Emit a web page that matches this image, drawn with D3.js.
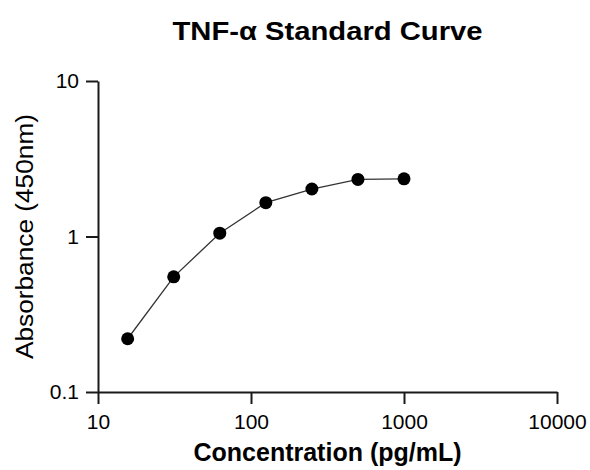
<!DOCTYPE html>
<html lang="en">
<head>
    <meta charset="UTF-8">
    <script src="https://d3js.org/d3.v7.min.js"></script>
    <title>TNF-α Standard Curve</title>
    <style>
        body { margin: 0; background: #fff; }
        text { font-family: "Liberation Sans", Arial, sans-serif; fill: #000; }
    </style>
</head>
<body>
    <script>
        // standard curve data
        var concentrations = [15.625, 31.25, 62.5, 125, 250, 500, 1000];
        var absorbances = [0.22, 0.55, 1.05, 1.65, 2.02, 2.33, 2.35];
        var xTicks = [10, 100, 1000, 10000];
        var yTicks = [0.1, 1, 10];

        var svgWidth = 590, svgHeight = 470;
        var margin = { top: 81, right: 33, bottom: 78, left: 98 };
        var width = svgWidth - margin.left - margin.right;
        var height = svgHeight - margin.top - margin.bottom;

        var svg = d3.select('body')
            .append('svg')
            .attr('width', svgWidth)
            .attr('height', svgHeight);

        var g = svg.append('g')
            .attr('transform', 'translate(' + margin.left + ',' + margin.top + ')');

        var xScale = d3.scaleLog().domain([10, 10000]).range([0, width]);
        var yScale = d3.scaleLog().domain([0.1, 10]).range([height, 0]);

        var xAxis = d3.axisBottom(xScale)
            .tickValues(xTicks)
            .tickFormat(d3.format('d'))
            .tickSize(12)
            .tickSizeOuter(0)
            .tickPadding(10);

        var yAxis = d3.axisLeft(yScale)
            .tickValues(yTicks)
            .tickFormat(function(d) { return d < 1 ? d3.format('.1f')(d) : d3.format('d')(d); })
            .tickSize(12)
            .tickSizeOuter(0)
            .tickPadding(7);

        var gx = g.append('g')
            .attr('transform', 'translate(0,' + height + ')')
            .call(xAxis);

        var gy = g.append('g').call(yAxis);

        [gx, gy].forEach(function(ax) {
            ax.selectAll('path, line')
                .attr('stroke', '#1a1a1a')
                .attr('stroke-width', 2);
            ax.selectAll('text')
                .attr('font-size', '21px')
                .attr('fill', '#000');
        });

        var points = concentrations.map(function(c, i) {
            return { x: c, y: absorbances[i] };
        });

        var line = d3.line()
            .x(function(d) { return xScale(d.x); })
            .y(function(d) { return yScale(d.y); });

        g.append('path')
            .datum(points)
            .attr('d', line)
            .attr('fill', 'none')
            .attr('stroke', '#333')
            .attr('stroke-width', 1.3);

        g.selectAll('circle')
            .data(points)
            .enter()
            .append('circle')
            .attr('cx', function(d) { return xScale(d.x); })
            .attr('cy', function(d) { return yScale(d.y); })
            .attr('r', 6.5)
            .attr('fill', '#000');

        // title
        svg.append('text')
            .attr('x', margin.left + width / 2)
            .attr('y', 40)
            .attr('text-anchor', 'middle')
            .attr('font-size', '25px')
            .attr('font-weight', 'bold')
            .attr('textLength', 310)
            .attr('lengthAdjust', 'spacingAndGlyphs')
            .text('TNF-α Standard Curve');

        // axis titles
        svg.append('text')
            .attr('x', margin.left + width / 2)
            .attr('y', 461)
            .attr('text-anchor', 'middle')
            .attr('font-size', '25px')
            .attr('font-weight', 'bold')
            .text('Concentration (pg/mL)');

        svg.append('text')
            .attr('transform', 'translate(33,' + (margin.top + height / 2) + ') rotate(-90)')
            .attr('text-anchor', 'middle')
            .attr('font-size', '23px')
            .attr('textLength', 245)
            .attr('lengthAdjust', 'spacingAndGlyphs')
            .text('Absorbance (450nm)');
    </script>
</body>
</html>
